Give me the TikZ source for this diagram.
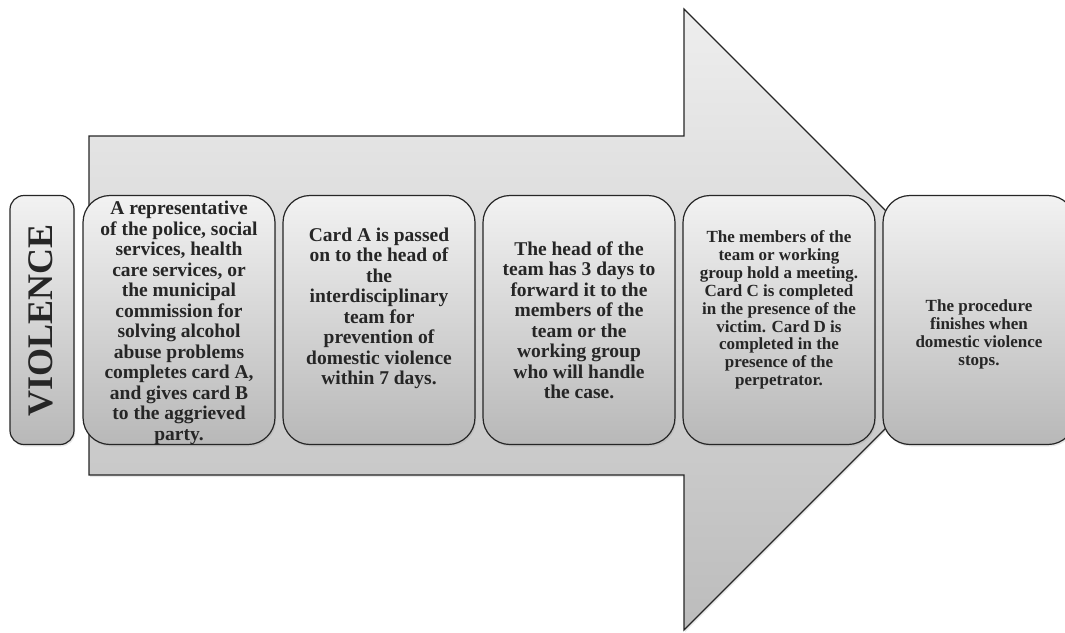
\documentclass[tikz,border=0pt]{standalone}
\usepackage{fontspec}
\setmainfont{Liberation Serif}
\usetikzlibrary{shadows}
\definecolor{ink}{RGB}{38,38,38}
\definecolor{gtop}{RGB}{242,242,242}
\definecolor{gbot}{RGB}{184,184,184}
\definecolor{atop}{RGB}{238,238,238}
\definecolor{abot}{RGB}{188,188,188}
\begin{document}
\begin{tikzpicture}[x=1pt,y=-1pt,
  shad/.style={drop shadow={shadow xshift=1.2pt,shadow yshift=-2pt,opacity=0.18}},
  card/.style={draw=ink,line width=1.2pt,rounded corners=27pt,minimum width=192pt,minimum height=249pt,inner sep=0pt,top color=gtop,bottom color=gbot,shad},
  vcard/.style={draw=ink,line width=1.2pt,rounded corners=14pt,minimum width=64pt,minimum height=249pt,inner sep=0pt,top color=gtop,bottom color=gbot,shad},
  bigtxt/.style={anchor=north,align=center,inner sep=0pt,text=ink,font=\fontsize{19.5}{20.5}\selectfont\bfseries},
  smalltxt/.style={anchor=north,align=center,inner sep=0pt,text=ink,font=\fontsize{17}{17.9}\selectfont\bfseries},
  vtxt/.style={rotate=90,inner sep=0pt,text=ink,font=\fontsize{36}{40}\selectfont\bfseries}]
\clip (0,0) rectangle (1065,632);
% big arrow
\path[draw=ink,line width=1.2pt,top color=atop,bottom color=abot,shad]
  (89,136) -- (684,136) -- (684,9) -- (994.5,319.5) -- (684,630) -- (684,475) -- (89,475) -- cycle;
% VIOLENCE box
\node[vcard] (v) at (42,320) {};
\node[vtxt] (vt) at (40.5,320.5) {VIOLENCE};
% step boxes
\node[card] (b1) at (179,320) {};
\node[card] (b2) at (379,320) {};
\node[card] (b3) at (579,320) {};
\node[card] (b4) at (779,320) {};
\node[card] (b5) at (979,320) {};
% texts
\node[bigtxt] (t1) at (179,201) {A representative\\of the police, social\\services, health\\care services, or\\the municipal\\commission for\\solving alcohol\\abuse problems\\completes card A,\\and gives card B\\to the aggrieved\\party.};
\node[bigtxt] (t2) at (379,227.7) {Card A is passed\\on to the head of\\the\\interdisciplinary\\team for\\prevention of\\domestic violence\\within 7 days.};
\node[bigtxt] (t3) at (579,241.5) {The head of the\\team has 3 days to\\forward it to the\\members of the\\team or the\\working group\\who will handle\\the case.};
\node[smalltxt] (t4) at (779,230.4) {The members of the\\team or working\\group hold a meeting.\\Card C is completed\\in the presence of the\\victim. Card D is\\completed in the\\presence of the\\perpetrator.};
\node[smalltxt] (t5) at (979,299.4) {The procedure\\finishes when\\domestic violence\\stops.};
\end{tikzpicture}
\end{document}
